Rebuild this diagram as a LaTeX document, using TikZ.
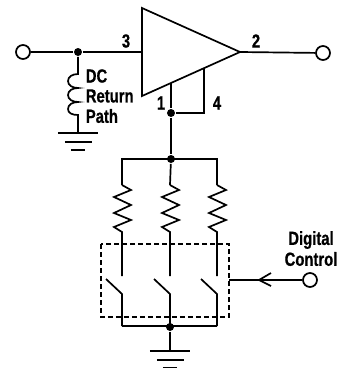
\documentclass[tikz,border=0pt]{standalone}
\usepackage{fontspec}
\setmainfont[FakeStretch=0.78,BoldFeatures={FakeStretch=0.78,FakeBold=0.6}]{Liberation Sans}
\begin{document}
\begin{tikzpicture}[x=1pt,y=-1pt,line width=1.7pt,line join=miter,
  term/.style={circle,draw,fill=white,inner sep=0pt,minimum size=14pt},
  junc/.style={circle,fill=black,inner sep=0pt,minimum size=8pt},
  lab/.style={font=\bfseries\fontsize{19}{20}\selectfont,inner sep=0pt,align=center,text=black},
  gnd/.pic={\draw (-20,0) -- (20,0); \draw (-13,9) -- (14,9); \draw (-7,17) -- (7,17);}]
\useasboundingbox (0,0) rectangle (338,368);
% amplifier
\coordinate (ampA) at (142,8);
\coordinate (ampB) at (142,96);
\coordinate (ampC) at (240,52);
\coordinate (ampIn) at (142,52);
\coordinate (pinA) at (171,83);
\coordinate (pinB) at (204,68.5);
\draw (ampA) -- (ampC) -- (ampB) -- cycle;
% nodes
\node[term] (in) at (23,52) {};
\node[term] (out) at (323,53) {};
\node[junc] (j1) at (78,52) {};
\node[junc] (j2) at (171,113) {};
\node[junc] (j3) at (171,159) {};
\node[junc] (j4) at (170,327) {};
\node[term] (ctl) at (310,280) {};
\coordinate (g1) at (78,133);
\coordinate (g2) at (170,351);
\coordinate (c4) at (204,113);
% wires
\draw (in) -- (j1) -- (ampIn);
\draw (ampC) -- (out);
\draw (pinA) -- (j2) -- (j3);
\draw (pinB) -- (c4) -- (j2);
% inductor
\draw (j1) -- (78,74) .. controls (72,74) and (68,77) .. (68,81) .. controls (68,85) and (72,88) .. (78,88)
  .. controls (72,88) and (68,91) .. (68,95) .. controls (68,99) and (72,102) .. (78,102)
  .. controls (72,102) and (68,105) .. (68,109) .. controls (68,113) and (72,115) .. (78,115) -- (g1);
\pic at (g1) {gnd};
% resistor bus
\draw (122,185) -- (122,159) -- (217,159) -- (217,185);
\draw (j3) -- (170,185);
\foreach \x in {122,170,217}{
  \draw (\x,185) -- (\x+9,190) -- (\x-8,197) -- (\x+9,205) -- (\x-8,213) -- (\x+9,220) -- (\x-8,227) -- (\x,232) -- (\x,276);
  \draw (\x-16,279) -- (\x,294) -- (\x,326);
}
\draw (122,326) -- (217,326);
\draw (j4) -- (g2);
\pic at (g2) {gnd};
% dashed box
\draw[dash pattern=on 5pt off 3pt] (101,244) rectangle (229,317);
\coordinate (box) at (229,280);
\draw (ctl) -- (box);
\draw (271,273) -- (259,280) -- (271,286);
% labels
\node[lab] at (126,41) {3};
\node[lab] at (256,41) {2};
\node[lab] at (161,103) {1};
\node[lab] at (217,103) {4};
\node[lab,anchor=west] at (85,76) {DC};
\node[lab,anchor=west] at (85,96) {Return};
\node[lab,anchor=west] at (85,116) {Path};
\node[lab] at (311,240) {Digital};
\node[lab] at (311,259) {Control};
\end{tikzpicture}
\end{document}
